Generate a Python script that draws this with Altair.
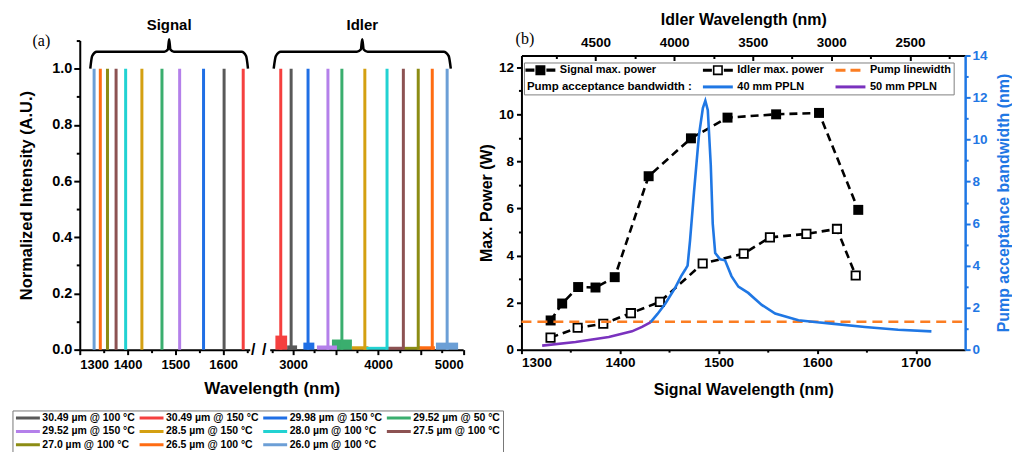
import altair as alt
import pandas as pd

FONT = "Liberation Sans"
SERIF = "Liberation Serif"
BLUE = "#1f77e4"
PURPLE = "#7a32be"
ORANGE = "#fb7d22"

# ================= panel (a): spectra =================
SERIES = [
    "30.49 µm @ 100 °C", "30.49 µm @ 150 °C", "29.98 µm @ 150 °C", "29.52 µm @ 50 °C",
    "29.52 µm @ 150 °C", "28.5 µm @ 150 °C", "28.0 µm @ 100 °C", "27.5 µm @ 100 °C",
    "27.0 µm @ 100 °C", "26.5 µm @ 100 °C", "26.0 µm @ 100 °C",
]
SERIES_COLORS = ["#595959", "#f5403f", "#1f6fe5", "#3aae6e", "#b480ea", "#d4a012",
                 "#22d2d2", "#8c5252", "#8c8c14", "#ff6c12", "#6c9fd6"]
SIGNAL_PEAK_NM = [1602, 1642, 1559, 1472, 1509, 1430, 1396, 1376, 1358, 1343, 1330]
IDLER_PEAK_NM = [2977, 2855, 3176, 3574, 3410, 3844, 4105, 4297, 4472, 4637, 4812]
PEAK_INTENSITY = [1.0, 1.0, 1.0, 1.0, 1.0, 1.0, 1.0, 1.0, 1.0, 1.0, 1.0]
IDLER_BASE_LO = [2930, 2792, 3121, 3457, 3281, 3692, 3859, 4117, 4296, 4472, 4680]
IDLER_BASE_HI = [3047, 2930, 3250, 3692, 3516, 3886, 4102, 4296, 4512, 4668, 4941]
IDLER_BASE_LEVEL = [0.015, 0.05, 0.025, 0.036, 0.015, 0.012, 0.01, 0.01, 0.01, 0.012, 0.025]

SIGNAL_TICKS = [1300, 1400, 1500, 1600]
SIGNAL_MINOR = [1350, 1450, 1550, 1650]
IDLER_TICKS = [3000, 3500, 4000, 4500, 5000]
IDLER_MINOR = [2750, 3250, 3750, 4250, 4750]
INTENSITY_TICKS = [0.0, 0.2, 0.4, 0.6, 0.8, 1.0]
INTENSITY_MINOR = [0.1, 0.3, 0.5, 0.7, 0.9, 1.1]

# curly-brace annotation shape (fraction of span, intensity level)
BRACE_F = [0, 0.012, 0.04, 0.47, 0.492, 0.5, 0.508, 0.53, 0.96, 0.988, 1]
BRACE_Y = [1.0, 1.045, 1.06, 1.06, 1.068, 1.105, 1.068, 1.06, 1.06, 1.045, 1.0]
SIGNAL_BRACE_NM = [1322, 1652]
IDLER_BRACE_NM = [2772, 4855]
BRACE_LABEL_LEVEL = 1.157
BREAK_NM = [1663, 1686]

# ================= panel (b): power / bandwidth =================
SIG_NM = [1329.6, 1341.3, 1357.5, 1375.1, 1394.6, 1429.0, 1471.9, 1509.0, 1558.3, 1601.8, 1641.6]
SIG_W = [1.24, 1.96, 2.66, 2.64, 3.08, 7.37, 8.98, 9.86, 10.0, 10.06, 5.94]
IDL_NM = [1329.5, 1357.0, 1383.0, 1411.0, 1440.4, 1483.8, 1525.4, 1552.0, 1589.0, 1620.0, 1639.0]
IDL_W = [0.51, 0.93, 1.10, 1.55, 2.03, 3.66, 4.08, 4.77, 4.92, 5.13, 3.15]
BW40_NM = [1430.8, 1438, 1446, 1456, 1462, 1466, 1468.5, 1471, 1475, 1480, 1484, 1486.5,
           1489, 1492, 1494, 1496.5, 1501.5, 1506.5, 1513, 1520, 1530, 1543.7, 1557.3,
           1580.9, 1600, 1614.6, 1648.4, 1682, 1715.8]
BW40 = [1.30, 1.7, 2.2, 2.95, 3.5, 3.8, 4.0, 5.2, 7.5, 10.2, 11.5, 11.85,
        11.4, 8.8, 6.0, 4.6, 4.3, 4.25, 3.5, 3.0, 2.7, 2.13, 1.72,
        1.40, 1.30, 1.24, 1.08, 0.95, 0.87]
BW50_NM = [1321, 1354.9, 1388.6, 1412.1, 1422.3, 1430.8]
BW50 = [0.19, 0.36, 0.60, 0.87, 1.08, 1.30]
PUMP_LW_NM = [1300, 1750]
PUMP_LW = [1.33, 1.33]
IDLER_AXIS_NM = [2149, 4971]

SIGWL_TICKS = [1300, 1400, 1500, 1600, 1700]
SIGWL_MINOR = [1350, 1450, 1550, 1650]
POWER_TICKS = [0, 2, 4, 6, 8, 10, 12]
POWER_MINOR = [1, 3, 5, 7, 9, 11]
BW_TICKS = [0, 2, 4, 6, 8, 10, 12, 14]
BW_MINOR = [1, 3, 5, 7, 9, 11, 13]
IDWL_TICKS = [2500, 3000, 3500, 4000, 4500]
IDWL_MINOR = [2250, 2750, 3250, 3750, 4250, 4750]

# legend keys; the 4th entry is an empty slot whose width leaves room for the row caption
LEG_SLOT = "\u200b" + "\u00a0" * 43 + "\u200b"
LEG_KEYS = ["Signal max. power", "Idler max. power", "Pump linewidth",
            LEG_SLOT, "40 mm PPLN", "50 mm PPLN"]
LEG_FILLS = ["black", "black", ORANGE, "transparent", BLUE, PURPLE]
LEG_PATHS = [
    "M-3,-0.33H-1.2V0.33H-3Z M-1,-1H1V1H-1Z M1.2,-0.33H3V0.33H1.2Z",
    "M-3,-0.3H-1.2V0.3H-3Z M-1,-1H1V1H-1Z M-0.68,-0.68V0.68H0.68V-0.68Z M1.2,-0.3H3V0.3H1.2Z",
    "M-3,-0.3H-1V0.3H-3Z M0,-0.3H2V0.3H0Z",
    "M0,0Z",
    "M-3,-0.3H3V0.3H-3Z",
    "M-3,-0.3H3V0.3H-3Z",
]

H = 295
W_A = 385
W_B = 445


def ax(**kw):
    base = dict(domainColor="black", domainWidth=2, tickColor="black", tickWidth=2, tickSize=5,
                labelFont=FONT, labelFontWeight="bold", labelColor="black", labelFontSize=13,
                titleFont=FONT, titleFontWeight="bold", titleColor="black", grid=False,
                labelPadding=3)
    base.update(kw)
    return alt.Axis(**base)


def tick_axis(orient, values, size=3, color="black", **kw):
    return alt.Axis(orient=orient, values=values, labels=False, domain=False, ticks=True,
                    tickSize=size, tickWidth=2, tickColor=color, title=None, grid=False, **kw)


# ---------- panel (a) ----------
x_sig = alt.Scale(domain=[1300, 1655.7], range=[0, 170.5], nice=False, zero=False)
x_idl = alt.Scale(domain=[2725, 5000], range=[190.5, 384.5], nice=False, zero=False)
y_int = alt.Scale(domain=[0, 1.1], range=[H, -15], nice=False, zero=True)

ax_sig = ax(orient="bottom", values=SIGNAL_TICKS, format="d", title="Wavelength (nm)",
            titleX=192.5, titleFontSize=17, titlePadding=9, labelPadding=4)
ax_idl = ax(orient="bottom", values=IDLER_TICKS, format="d", title=None, labelPadding=4)
ax_int = ax(orient="left", values=INTENSITY_TICKS, format=".1f",
            title="Normalized Intensity (A.U.)", titleFontSize=16.5, titlePadding=17,
            labelFontSize=14.5, tickSize=6, labelPadding=2)

leg_a = alt.Legend(title=None, orient="none", legendX=-67.5, legendY=356, columns=4,
                   direction="horizontal", symbolType="stroke", symbolSize=576,
                   symbolStrokeWidth=3, clipHeight=11, labelFont=FONT, labelFontSize=10.5,
                   labelFontWeight="bold", labelColor="black", labelOffset=1, padding=2,
                   rowPadding=2.5, columnPadding=3, strokeColor="#777777", fillColor="white",
                   labelLimit=300)
color_a = alt.Color("series:N", scale=alt.Scale(domain=SERIES, range=SERIES_COLORS), legend=leg_a)

sig_df = pd.DataFrame({"series": SERIES, "wl": SIGNAL_PEAK_NM, "top": PEAK_INTENSITY, "base": 0.0})
idl_df = pd.DataFrame({"series": SERIES, "wl": IDLER_PEAK_NM, "top": PEAK_INTENSITY, "base": 0.0,
                       "lo": IDLER_BASE_LO, "hi": IDLER_BASE_HI, "lvl": IDLER_BASE_LEVEL})


def brace_df(span):
    lo, hi = span
    return pd.DataFrame({"wl": [lo + f * (hi - lo) for f in BRACE_F], "v": BRACE_Y,
                         "o": list(range(len(BRACE_F)))})


def text_df(wl, v, t):
    return pd.DataFrame({"wl": wl, "v": v, "t": t})


xs = alt.X("wl:Q", scale=x_sig, axis=ax_sig)
ys = alt.Y("v:Q", scale=y_int, axis=ax_int)
sig_rules = alt.Chart(sig_df).mark_rule(strokeWidth=3).encode(
    x=xs, y=alt.Y("base:Q", scale=y_int, axis=ax_int), y2="top:Q", color=color_a)
sig_brace = alt.Chart(brace_df(SIGNAL_BRACE_NM)).mark_line(
    color="black", strokeWidth=2.5, interpolate="monotone").encode(x=xs, y=ys, order="o:O")
sig_text = alt.Chart(text_df([sum(SIGNAL_BRACE_NM) / 2], [BRACE_LABEL_LEVEL], ["Signal"])).mark_text(
    font=FONT, fontWeight="bold", fontSize=15, color="black", baseline="middle").encode(
    x=xs, y=ys, text="t:N")
a_label = alt.Chart(text_df([1219.7], [1.097], ["(a)"])).mark_text(
    font=SERIF, fontSize=16, color="black", baseline="middle").encode(x=xs, y=ys, text="t:N")
breaks = alt.Chart(text_df(BREAK_NM, [0.0, 0.0], ["/", "/"])).mark_text(
    font=FONT, fontWeight="bold", fontSize=16, color="black", baseline="middle").encode(
    x=xs, y=ys, text="t:N")

xi = alt.X("wl:Q", scale=x_idl, axis=ax_idl)
yi = alt.Y("v:Q", scale=y_int, axis=None)
idl_rects = alt.Chart(idl_df).mark_rect().encode(
    x=alt.X("lo:Q", scale=x_idl, axis=ax_idl), x2="hi:Q",
    y=alt.Y("base:Q", scale=y_int, axis=None), y2="lvl:Q", color=color_a)
idl_rules = alt.Chart(idl_df).mark_rule(strokeWidth=3).encode(
    x=xi, y=alt.Y("base:Q", scale=y_int, axis=None), y2="top:Q", color=color_a)
idl_brace = alt.Chart(brace_df(IDLER_BRACE_NM)).mark_line(
    color="black", strokeWidth=2.5, interpolate="monotone").encode(x=xi, y=yi, order="o:O")
idl_text = alt.Chart(text_df([sum(IDLER_BRACE_NM) / 2], [BRACE_LABEL_LEVEL], ["Idler"])).mark_text(
    font=FONT, fontWeight="bold", fontSize=15, color="black", baseline="middle").encode(
    x=xi, y=yi, text="t:N")

minor_a1 = alt.Chart(sig_df).mark_point(opacity=0).encode(
    x=alt.X("wl:Q", scale=x_sig, axis=tick_axis("bottom", SIGNAL_MINOR, 3)),
    y=alt.Y("top:Q", scale=y_int, axis=tick_axis("left", INTENSITY_MINOR, 3.5)))
minor_a2 = alt.Chart(idl_df).mark_point(opacity=0).encode(
    x=alt.X("wl:Q", scale=x_idl, axis=tick_axis("bottom", IDLER_MINOR, 3)))

panel_a = alt.layer(
    alt.layer(sig_rules, sig_brace, sig_text, a_label, breaks),
    alt.layer(idl_rects, idl_rules, idl_brace, idl_text),
    minor_a1, minor_a2,
).resolve_scale(x="independent", y="independent").properties(width=W_A, height=H)

# ---------- panel (b) ----------
x_b = alt.Scale(domain=[1300, 1750], nice=False, zero=False)
y_p = alt.Scale(domain=[0, 12.5], nice=False)
y_bw = alt.Scale(domain=[0, 14], nice=False)
x_top = alt.Scale(domain=IDLER_AXIS_NM, reverse=True, nice=False, zero=False)

ax_b_bottom = ax(orient="bottom", values=SIGWL_TICKS, format="d",
                 title="Signal Wavelength (nm)", titleFontSize=16, labelFontSize=13.5,
                 tickSize=4, labelPadding=2, titlePadding=12)
ax_b_left = ax(orient="left", values=POWER_TICKS, format="d", title="Max. Power (W)",
               titleFontSize=16, labelFontSize=13.5, tickSize=5, labelPadding=3, titlePadding=4)
ax_b_right = ax(orient="right", values=BW_TICKS, format="d",
                title="Pump acceptance bandwidth (nm)", titleAngle=270, titleBaseline="top",
                titleFontSize=16, labelFontSize=13.5, tickSize=5, labelPadding=2, titlePadding=8,
                domainColor=BLUE, domainWidth=2.5, tickColor=BLUE, labelColor=BLUE, titleColor=BLUE)
ax_b_top = ax(orient="top", values=IDWL_TICKS, format="d", ticks=False, tickSize=0,
              title="Idler Wavelength (nm)", titleFontSize=16, labelFontSize=13.5,
              labelPadding=6, titlePadding=8)

sig_b = pd.DataFrame({"wl": SIG_NM, "p": SIG_W})
idl_b = pd.DataFrame({"wl": IDL_NM, "p": IDL_W})
bw40_df = pd.DataFrame({"wl": BW40_NM, "bw": BW40})
bw50_df = pd.DataFrame({"wl": BW50_NM, "bw": BW50})
pump_df = pd.DataFrame({"wl": PUMP_LW_NM, "bw": PUMP_LW})
leg_df = pd.DataFrame({"key": LEG_KEYS, "wl": [1200] * len(LEG_KEYS), "p": [1.0] * len(LEG_KEYS)})
top_df = pd.DataFrame({"idl": IDLER_AXIS_NM})

xb = alt.X("wl:Q", scale=x_b, axis=ax_b_bottom)
yp = alt.Y("p:Q", scale=y_p, axis=ax_b_left)

sig_line = alt.Chart(sig_b).mark_line(color="black", strokeWidth=2.6, strokeDash=[8, 5]).encode(x=xb, y=yp)
idl_line = alt.Chart(idl_b).mark_line(color="black", strokeWidth=2.6, strokeDash=[8, 5]).encode(x=xb, y=yp)
sig_pts = alt.Chart(sig_b).mark_point(shape="square", filled=True, color="black", size=100,
                                      opacity=1).encode(x=xb, y=yp)
idl_pts = alt.Chart(idl_b).mark_point(shape="square", filled=True, fill="white", stroke="black",
                                      strokeWidth=1.8, size=70, opacity=1).encode(x=xb, y=yp)

leg_b = alt.Legend(title=None, orient="none", legendX=2.5, legendY=7, columns=3,
                   direction="horizontal", symbolSize=100, symbolOffset=9, labelOffset=14,
                   symbolStrokeWidth=0, labelFont=FONT, labelFontSize=11, labelFontWeight="bold",
                   labelColor="black", padding=2, rowPadding=5, columnPadding=11,
                   strokeColor="#7f7f7f", labelLimit=400)
legend_pts = alt.Chart(leg_df).mark_point(filled=True, opacity=1, strokeWidth=0, clip=True).encode(
    x=xb, y=yp,
    fill=alt.Fill("key:N", scale=alt.Scale(domain=LEG_KEYS, range=LEG_FILLS), legend=leg_b),
    shape=alt.Shape("key:N", scale=alt.Scale(domain=LEG_KEYS, range=LEG_PATHS), legend=leg_b),
)

power = alt.layer(sig_line, idl_line, sig_pts, idl_pts, legend_pts)

xbw = alt.X("wl:Q", scale=x_b, axis=None)
ybw = alt.Y("bw:Q", scale=y_bw, axis=ax_b_right)
pump_line = alt.Chart(pump_df).mark_line(color=ORANGE, strokeWidth=2.6, strokeDash=[10, 6]).encode(x=xbw, y=ybw)
bw50_line = alt.Chart(bw50_df).mark_line(color=PURPLE, strokeWidth=2.6).encode(x=xbw, y=ybw)
bw40_line = alt.Chart(bw40_df).mark_line(color=BLUE, strokeWidth=2.6).encode(x=xbw, y=ybw)
b_label = alt.Chart(pd.DataFrame({"wl": [1303.5], "bw": [14.78], "t": ["(b)"]})).mark_text(
    font=SERIF, fontSize=16, color="black", baseline="middle").encode(x=xbw, y=ybw, text="t:N")
bw_text = alt.Chart(pd.DataFrame({"wl": [1305.6], "bw": [12.48],
                                  "t": ["Pump acceptance bandwidth :"]})).mark_text(
    font=FONT, fontSize=11.5, fontWeight="bold", color="black", align="left", baseline="middle").encode(
    x=xbw, y=ybw, text="t:N")

bandwidth = alt.layer(pump_line, bw50_line, bw40_line, b_label, bw_text)

top_axis = alt.Chart(top_df).mark_point(opacity=0).encode(
    x=alt.X("idl:Q", scale=x_top, axis=ax_b_top))
top_major = alt.Chart(top_df).mark_point(opacity=0).encode(
    x=alt.X("idl:Q", scale=x_top, axis=tick_axis("top", IDWL_TICKS, 5, offset=-5)))
top_minor = alt.Chart(top_df).mark_point(opacity=0).encode(
    x=alt.X("idl:Q", scale=x_top, axis=tick_axis("top", IDWL_MINOR, 3, offset=-3)))
minor_bl = alt.Chart(sig_b).mark_point(opacity=0).encode(
    x=alt.X("wl:Q", scale=x_b, axis=tick_axis("bottom", SIGWL_MINOR, 2.5)),
    y=alt.Y("p:Q", scale=y_p, axis=tick_axis("left", POWER_MINOR, 3)))
minor_r = alt.Chart(bw40_df).mark_point(opacity=0).encode(
    y=alt.Y("bw:Q", scale=y_bw, axis=tick_axis("right", BW_MINOR, 3, color=BLUE)))

panel_b = alt.layer(power, bandwidth, top_axis, top_major, top_minor, minor_bl, minor_r).resolve_scale(
    x="independent", y="independent").properties(width=W_B, height=H)

chart = alt.hconcat(panel_a, panel_b, spacing=58, bounds="flush").resolve_scale(
    color="independent", fill="independent", shape="independent").resolve_legend(
    color="independent", fill="independent", shape="independent").properties(
    padding={"left": 12, "top": 11, "right": 0, "bottom": 0}).configure_view(stroke=None)

chart.save("out.html", embed_options={"renderer": "svg", "actions": False})
